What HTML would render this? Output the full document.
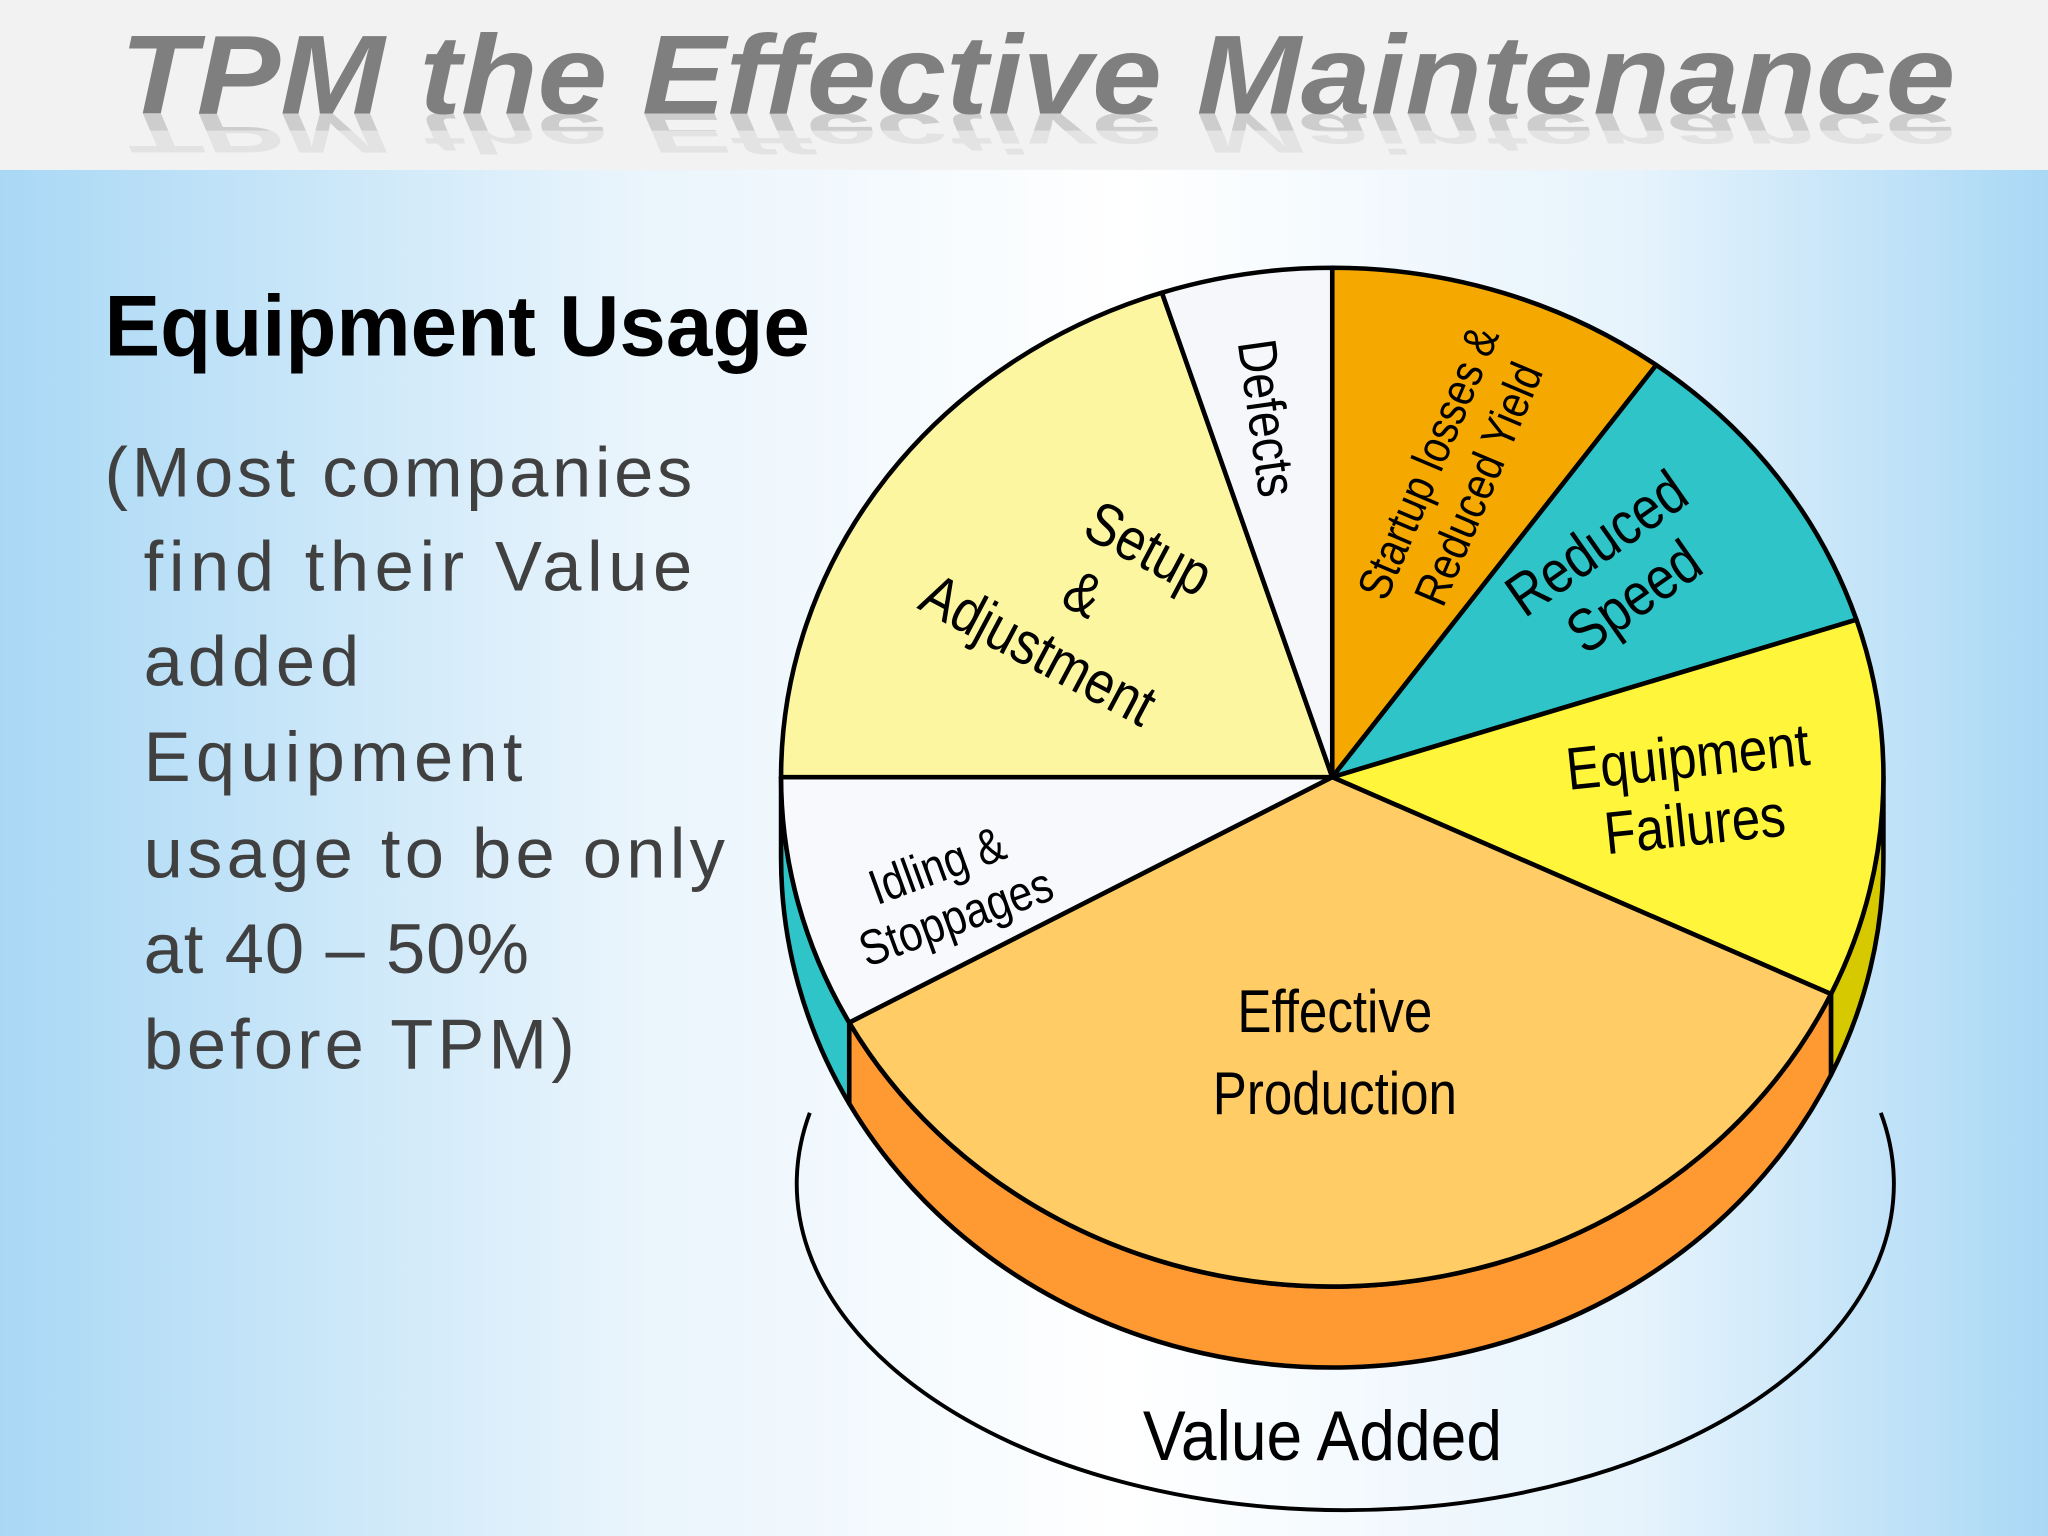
<!DOCTYPE html>
<html><head><meta charset="utf-8">
<style>
html,body{margin:0;padding:0;width:2048px;height:1536px;overflow:hidden;background:#fff}
svg{display:block}
.n{font-family:"Liberation Sans Narrow","Liberation Sans",sans-serif}
</style></head>
<body>
<svg id="s" width="2048" height="1536" viewBox="0 0 1568 1176">
<defs>
<linearGradient id="bgx" x1="0" y1="0" x2="1" y2="0">
<stop offset="0" stop-color="#a9d8f5"/><stop offset="0.3" stop-color="#e8f4fc"/><stop offset="0.55" stop-color="#ffffff"/><stop offset="0.8" stop-color="#e6f3fc"/><stop offset="1" stop-color="#a9d8f5"/>
</linearGradient>
<clipPath id="hc"><rect x="0" y="0" width="1568" height="130"/></clipPath>
</defs>
<rect x="0" y="130" width="1568" height="1046" fill="url(#bgx)"/>
<rect x="0" y="0" width="1568" height="130" fill="#f2f2f2"/>
<g clip-path="url(#hc)">
<g transform="translate(0,87) scale(1,-0.5) translate(0,-87)">
<text x="92" y="87" font-family="Liberation Sans" font-weight="bold" font-style="italic" font-size="86" fill="#b0b0b0" opacity="0.55" textLength="1405" lengthAdjust="spacingAndGlyphs">TPM the Effective Maintenance</text>
</g>
<rect x="0" y="100" width="1568" height="30" fill="#f2f2f2" opacity="0.6"/>
<text x="92" y="87" font-family="Liberation Sans" font-weight="bold" font-style="italic" font-size="86" fill="#7f7f7f" textLength="1405" lengthAdjust="spacingAndGlyphs">TPM the Effective Maintenance</text>
</g>
<text class="n" x="80" y="272" font-size="66" font-weight="bold" fill="#000" textLength="540" lengthAdjust="spacingAndGlyphs">Equipment Usage</text>
<g font-family="Liberation Sans" font-size="54" fill="#404040" lengthAdjust="spacingAndGlyphs">
<text x="80" y="380" textLength="450">(Most companies</text>
<text x="110" y="452" textLength="420">find their Value</text>
<text x="110" y="525" textLength="165">added</text>
<text x="110" y="598" textLength="290">Equipment</text>
<text x="110" y="672" textLength="445">usage to be only</text>
<text x="110" y="745" textLength="295">at 40 – 50%</text>
<text x="110" y="818" textLength="330">before TPM)</text>
</g>
<path d="M 620 852 A 420 250 0 1 0 1440 852" fill="none" stroke="#000" stroke-width="3"/>
<text class="n" x="875" y="1118" font-size="54" fill="#000" textLength="275" lengthAdjust="spacingAndGlyphs">Value Added</text>
<g id="pie"></g>
<g class="n" fill="#000">
<text transform="translate(1112,362) rotate(-67) scale(0.85,1)" font-size="36" text-anchor="middle"><tspan x="0" y="-8">Startup losses &amp;</tspan><tspan x="0" y="34">Reduced Yield</tspan></text>
<text transform="translate(1237,437) rotate(-35) scale(0.85,1)" font-size="46" text-anchor="middle"><tspan x="0" y="-10">Reduced</tspan><tspan x="0" y="40">Speed</tspan></text>
<text transform="translate(1295,607) rotate(-6) scale(0.85,1)" font-size="46" text-anchor="middle"><tspan x="0" y="-12">Equipment</tspan><tspan x="0" y="40">Failures</tspan></text>
<text transform="translate(1022,0) scale(0.85,1)" font-size="46" text-anchor="middle"><tspan x="0" y="790">Effective</tspan><tspan x="0" y="853">Production</tspan></text>
<text transform="translate(726,686) rotate(-20) scale(0.85,1)" font-size="38" text-anchor="middle"><tspan x="0" y="-12">Idling &amp;</tspan><tspan x="0" y="30">Stoppages</tspan></text>
<text transform="translate(815,460) rotate(28) scale(0.85,1)" font-size="46" text-anchor="middle"><tspan x="45" y="-50">Setup</tspan><tspan x="12" y="4">&amp;</tspan><tspan x="0" y="58">Adjustment</tspan></text>
<text transform="translate(956,322) rotate(82) scale(0.85,1)" font-size="42" text-anchor="middle">Defects</text>
</g>
<script>
const categories=["Startup losses & Reduced Yield","Reduced Speed","Equipment Failures","Effective Production","Idling & Stoppages","Setup & Adjustment","Defects"];
const values=[10,10,12,35,8,20,5];
const topColors=["#f5a800","#2ec4c8","#fff53a","#ffcc66","#f7f9fc","#fdf6a0","#f5f7fb"];
const sideColors=["#c88a00","#2ec4c8","#d6c900","#ff9a33","#2ec4c8","#d8d080","#d0d0d0"];
const cx=1020,cy=595,rx=422,ry=390,depth=62;
const total=values.reduce((a,b)=>a+b,0);
const NS="http://www.w3.org/2000/svg";
const g=document.getElementById('pie');
function pt(a,dy){const r=a*Math.PI/180;return [cx+rx*Math.cos(r),cy+ry*Math.sin(r)+(dy||0)];}
let start=-90;const spans=[];
values.forEach(v=>{const e=start+v/total*360;spans.push([start,e]);start=e;});
spans.forEach((s,i)=>{
  let a0=s[0],a1=s[1];
  let lo=Math.max(a0,0),hi=Math.min(a1,180);
  if(hi<=lo){
    lo=Math.max(a0-360,0);hi=Math.min(a1-360,180);
    if(hi<=lo)return;
  }
  const p0=pt(lo),p1=pt(hi),q1=pt(hi,depth),q0=pt(lo,depth);
  const d=`M${p0[0]},${p0[1]} A${rx},${ry} 0 0 1 ${p1[0]},${p1[1]} L${q1[0]},${q1[1]} A${rx},${ry} 0 0 0 ${q0[0]},${q0[1]} Z`;
  const p=document.createElementNS(NS,'path');
  p.setAttribute('d',d);p.setAttribute('fill',sideColors[i]);p.setAttribute('stroke','#000');p.setAttribute('stroke-width','3.5');p.setAttribute('stroke-linejoin','round');
  
  
  g.appendChild(p);
});
spans.forEach((s,i)=>{
  const p0=pt(s[0]),p1=pt(s[1]);
  const large=(s[1]-s[0])>180?1:0;
  const p=document.createElementNS(NS,'path');
  p.setAttribute('d',`M${cx},${cy} L${p0[0]},${p0[1]} A${rx},${ry} 0 ${large} 1 ${p1[0]},${p1[1]} Z`);
  p.setAttribute('fill',topColors[i]);p.setAttribute('stroke','#000');p.setAttribute('stroke-width','3.5');p.setAttribute('stroke-linejoin','round');
  
  
  const t=document.createElementNS(NS,'title');t.textContent=categories[i];p.appendChild(t);
  g.appendChild(p);
});
</script>
</svg>
</body></html>
